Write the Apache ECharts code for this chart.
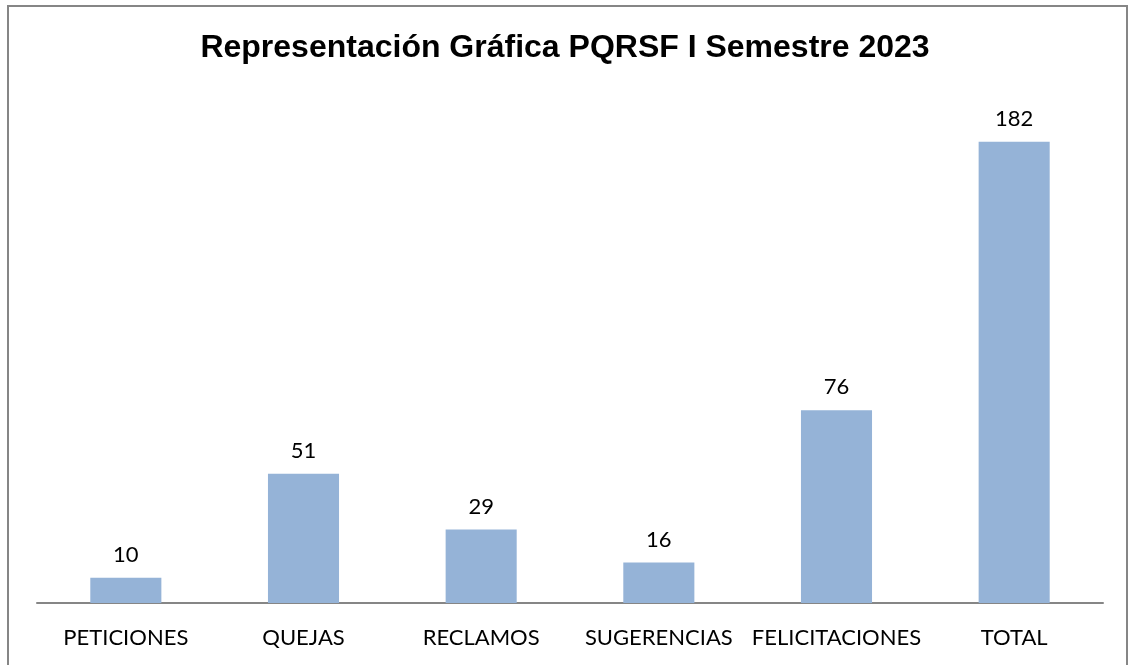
<html>
<head>
<meta charset="UTF-8">
<script src="https://cdn.jsdelivr.net/npm/echarts@6/dist/echarts.min.js"></script>
</head>
<body style="margin:0">
<div id="barEcharts" style="height: 665px; width: 1130px"></div>
<script>
	var categories = [ 'PETICIONES', 'QUEJAS', 'RECLAMOS', 'SUGERENCIAS', 'FELICITACIONES', 'TOTAL' ];
	var values = [ 10, 51, 29, 16, 76, 182 ];

	var barEcharts = echarts.init(document.getElementById('barEcharts'));
	var option = {
		animation : false,
		title : {
			text : 'Representación Gráfica PQRSF I Semestre 2023',
			left : 'center',
			top : 27,
			textStyle : {
				fontFamily : 'Liberation Sans',
				fontWeight : 'bold',
				fontSize : 32,
				color : '#000'
			}
		},
		graphic : [ {
			type : 'rect',
			shape : { x : 8, y : 6, width : 1119, height : 700 },
			style : { fill : 'none', stroke : '#868686', lineWidth : 2 }
		} ],
		grid : {
			left : 37,
			right : 27,
			top : 96,
			height : 507
		},
		xAxis : {
			type : 'category',
			data : categories,
			axisLine : { lineStyle : { color : '#868686', width : 2 } },
			axisTick : { show : false },
			axisLabel : {
				interval : 0,
				margin : 24,
				fontFamily : 'Lato',
				fontSize : 22,
				color : '#000'
			}
		},
		yAxis : {
			type : 'value',
			min : 0,
			max : 200,
			show : false,
			splitLine : { show : false }
		},
		series : [ {
			type : 'bar',
			data : values,
			barWidth : '40%',
			itemStyle : { color : '#95B3D7' },
			label : {
				show : true,
				position : 'top',
				distance : 12,
				fontFamily : 'Lato',
				fontSize : 22,
				color : '#000'
			}
		} ]
	};
	barEcharts.setOption(option);
</script>
</body>
</html>
